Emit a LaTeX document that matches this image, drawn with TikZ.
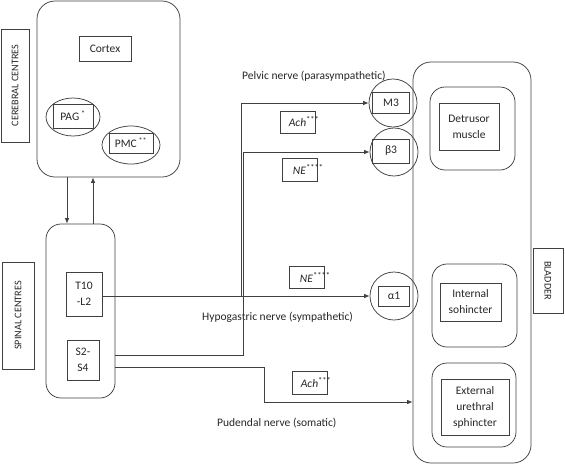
\documentclass[tikz,border=0pt]{standalone}
\usepackage{fontspec}
\setmainfont{Carlito}
\usetikzlibrary{arrows.meta,shapes.geometric}
\begin{document}
\begin{tikzpicture}[x=1pt,y=-1pt,
  every node/.style={text=black!85, font=\fontsize{11.5}{16}\selectfont},
  ln/.style={draw=black!75, line width=0.75pt},
  arr/.style={ln, -{Latex[length=5.5pt,width=4.5pt]}},
  sz/.style 2 args={minimum width=#1pt, minimum height=#2pt, inner sep=0pt},
  rbox/.style={ln, rounded corners=18pt},
  sbox/.style={ln, align=center},
  oval/.style={ln, ellipse},
  lab/.style={ln, font=\fontsize{10.2}{11}\selectfont}
]
\useasboundingbox (0,0) rectangle (565,466);

% cerebral centres
\node[rbox, sz={143}{176}] (cer) at (108.5,89) {};
\node[lab, sz={113}{28}, rotate=90] (cerlab) at (15,85.5) {CEREBRAL CENTRES};
\node[sbox, sz={52}{25}] (cortex) at (105,48.5) {Cortex};
\node[oval, sz={54}{38}] (pagc) at (73,117) {};
\node[sbox, sz={40}{24}] (pag) at (73,116) {PAG\,\textsuperscript{*}};
\node[oval, sz={58}{38}] (pmcc) at (131,145) {};
\node[sbox, sz={44}{20}] (pmc) at (131,143) {PMC\,\textsuperscript{**}};

% spinal centres
\node[rbox, rounded corners=15pt, sz={69}{174}] (spinal) at (80.5,311) {};
\node[lab, sz={107}{32}, rotate=90] (spinlab) at (18,315.5) {SPINAL CENTRES};
\node[sbox, sz={36}{44}] (t10) at (84,294) {T10\\-L2};
\node[sbox, sz={32}{40}] (s2) at (83,360) {S2-\\S4};

% links cerebral <-> spinal
\draw[arr] (cer.south -| 67,0) -- (spinal.north -| 67,0);
\draw[arr] (spinal.north -| 93,0) -- (cer.south -| 93,0);

% bladder
\node[rbox, sz={118}{401}] (bladder) at (472,262.5) {};
\node[lab, sz={65}{30}, rotate=-90] (bladlab) at (548,280.5) {BLADDER};
\node[rbox, rounded corners=15pt, sz={85}{83}] (detrr) at (472.5,128.5) {};
\node[sbox, sz={60}{47}] (detr) at (469,126.5) {Detrusor\\muscle};
\node[rbox, rounded corners=15pt, sz={85}{83}] (intr) at (474.5,305.5) {};
\node[sbox, sz={61}{38}] (int) at (470.5,302) {Internal\\sohincter};
\node[rbox, rounded corners=15pt, sz={84}{84}] (extr) at (474,405) {};
\node[sbox, sz={68}{56}] (ext) at (475,407) {External\\urethral\\sphincter};

% receptors
\node[ln, circle, sz={48}{48}] (m3c) at (393,103) {};
\node[sbox, sz={37}{21}] (m3) at (391,103) {M3};
\node[ln, circle, sz={48}{48}] (b3c) at (394,152) {};
\node[sbox, sz={37}{24}] (b3) at (391,151) {β3};
\node[ln, circle, sz={48}{48}] (a1c) at (394,296) {};
\node[sbox, sz={31}{20}] (a1) at (394,296) {α1};

% transmitter boxes
\node[sbox, sz={35}{22}] (ach1) at (297.5,122) {\textit{Ach}\rlap{\raisebox{4pt}{\fontsize{8.5}{9}\selectfont ***}}};
\node[sbox, sz={35}{23}] (ne1) at (299.5,169.5) {\textit{NE}\rlap{\raisebox{4pt}{\fontsize{8.5}{9}\selectfont ****}}};
\node[sbox, sz={35}{22}] (ne2) at (306.5,277) {\textit{NE}\rlap{\raisebox{4pt}{\fontsize{8.5}{9}\selectfont ****}}};
\node[sbox, sz={35}{23}] (ach2) at (309.5,382.5) {\textit{Ach}\rlap{\raisebox{4pt}{\fontsize{8.5}{9}\selectfont ***}}};

% nerve labels
\node[anchor=west, inner sep=0] (pelvic) at (242,76) {Pelvic nerve (parasympathetic)};
\node[anchor=west, inner sep=0] (hypo) at (202,317) {Hypogastric nerve (sympathetic)};
\node[anchor=west, inner sep=0] (pud) at (217,423) {Pudendal nerve (somatic)};

% connectors
\coordinate (j1) at (241,296);
\coordinate (j2) at (243,355);
\coordinate (j3) at (264,367);
\draw[arr] (t10.east |- a1c) -- (a1c.west);
\draw[arr] (j1) |- (m3c.west);
\draw[arr] (spinal.east |- j2) -- (j2) |- (b3c.west);
\draw[arr] (spinal.east |- j3) -- (j3) |- (bladder.west |- 0,402);
\end{tikzpicture}
\end{document}
